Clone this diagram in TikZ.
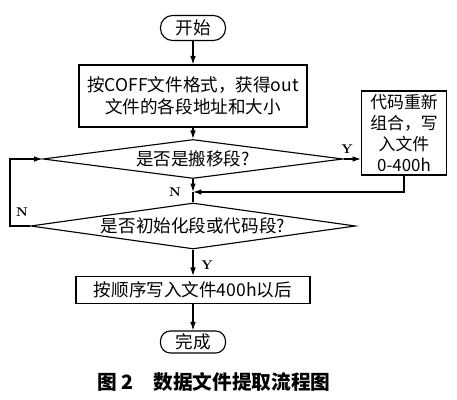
\documentclass[tikz,border=0pt]{standalone}
\usepackage{fontspec}
\usepackage{tikz}
\usetikzlibrary{shapes.geometric,arrows.meta}
\newfontfamily\cjk{Noto Sans CJK SC}
\tikzstyle{caja}=[draw,thick,inner sep=2pt,align=center,font=\cjk\fontsize{12.5}{16}\selectfont]
\tikzstyle{borne}=[caja,rounded corners=0.3cm]
\tikzstyle{rombo}=[draw,thick,diamond,inner sep=0pt,font=\cjk\fontsize{12.5}{16}\selectfont]
\tikzstyle{etiq}=[inner sep=0pt,font=\bfseries\small]
\tikzstyle{flecha}=[-{Latex[length=6pt,width=4pt]}]

\begin{document}
\begin{tikzpicture}[thick]
    \useasboundingbox (0,0) rectangle (11.425,-10);
    \node [borne,minimum width=1.625cm,minimum height=0.625cm] (inicio) at (4.825,-0.7) {开始};
    \node [caja,minimum width=5.7cm,minimum height=1.55cm] (formato) at (4.825,-2.4) {按COFF文件格式，获得out\\文件的各段地址和大小};
    \node [rombo,minimum width=7.5cm,minimum height=0.975cm,aspect=7.7] (reub) at (4.825,-3.975) {是否是搬移段?};
    \node [caja,minimum width=2.125cm,minimum height=2.1cm,font=\cjk\fontsize{12}{15}\selectfont] (recomb) at (10.1,-3.325) {代码重新\\组合，写\\入文件\\0-400h};
    \coordinate (union) at (4.825,-4.8);
    \node [rombo,minimum width=8.125cm,minimum height=1.15cm,aspect=7.1] (tipo) at (4.825,-5.65) {是否初始化段或代码段?};
    \coordinate (izq) at (0.25,-5.65);
    \node [caja,minimum width=5.85cm,minimum height=0.675cm] (orden) at (4.825,-7.25) {按顺序写入文件400h以后};
    \node [borne,minimum width=1.625cm,minimum height=0.5cm,rounded corners=0.25cm] (fin) at (4.825,-8.55) {完成};
    \node [inner sep=0pt,font=\cjk\bfseries\fontsize{14}{16}\selectfont] (titulo) at (5.35,-9.55) {图 2\quad 数据文件提取流程图};

    \draw [flecha] (inicio) -- (formato);
    \draw [flecha] (formato) -- (reub);
    \draw [flecha] (reub.east) -- (reub.east -| recomb.west);
    \draw [flecha] (recomb.south) |- (union);
    \draw [flecha] (reub.south) -- (union);
    \draw (union) -- (tipo.north);
    \draw [flecha] (tipo.west) -- (izq) |- (reub.west);
    \draw [flecha] (tipo.south) -- (orden);
    \draw [flecha] (orden) -- (fin);

    \node [etiq] at (8.675,-3.72) {Y};
    \node [etiq] at (4.375,-4.8) {N};
    \node [etiq] at (0.55,-5.3) {N};
    \node [etiq] at (5.175,-6.62) {Y};
\end{tikzpicture}
\end{document}
